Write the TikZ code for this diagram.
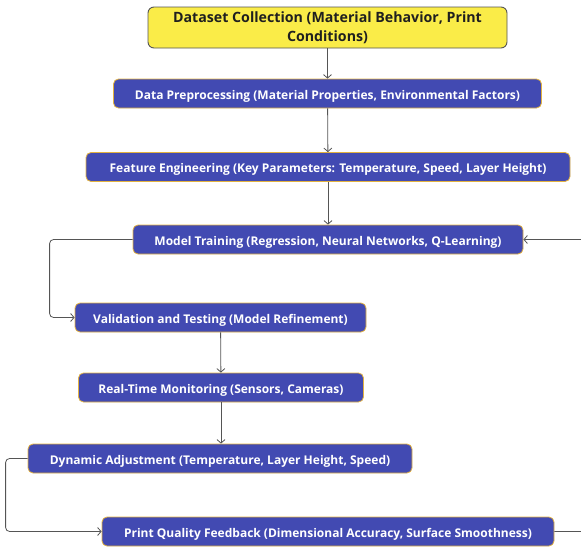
\documentclass[tikz,border=0pt]{standalone}
\usepackage{fontspec}
\setmainfont{Open Sans}
\usetikzlibrary{arrows.meta}
\definecolor{flowblue}{RGB}{66,74,178}
\definecolor{flowedge}{RGB}{226,178,64}
\definecolor{flowyellow}{RGB}{250,236,72}
\definecolor{flowgray}{RGB}{85,85,85}

\begin{document}
\begin{tikzpicture}[x=1pt,y=-1pt]

%
% Styles
%
\tikzstyle{block} = [rectangle,rounded corners=5pt,draw=flowedge,fill=flowblue,line width=0.8pt,
  text=white,font=\bfseries\fontsize{12}{14}\selectfont,minimum height=29pt,inner sep=0pt,
  text height=11pt,text depth=0pt]
\tikzstyle{headblock} = [rectangle,rounded corners=6pt,draw=flowgray,fill=flowyellow,line width=0.9pt,
  text=black!88,font=\bfseries\fontsize{14.2}{19}\selectfont,align=center,minimum height=41pt,inner sep=0pt]
\tikzstyle{link} = [draw=flowgray,line width=0.8pt,-{Straight Barb[length=3.5pt,width=8pt]}]

\useasboundingbox (0,0) rectangle (581,549);

\node[headblock,minimum width=359pt] (dataset) at (327.5,27.5)  {Dataset Collection (Material Behavior, Print\\Conditions)};
\node[block,minimum width=428pt] (preproc) at (327.5,93.5)  {Data Preprocessing (Material Properties, Environmental Factors)};
\node[block,minimum width=484pt] (feature) at (328,167) {Feature Engineering (Key Parameters: Temperature, Speed, Layer Height)};
\node[block,minimum width=390pt] (training) at (328,239.5) {Model Training (Regression, Neural Networks, Q-Learning)};
\node[block,minimum width=291pt] (validation) at (220.5,317.5) {Validation and Testing (Model Refinement)};
\node[block,minimum width=285pt] (monitoring) at (221,387.5) {Real-Time Monitoring (Sensors, Cameras)};
\node[block,minimum width=384pt] (adjustment) at (220,458.5) {Dynamic Adjustment (Temperature, Layer Height, Speed)};
\node[block,minimum width=452pt] (feedback) at (328,531.5) {Print Quality Feedback (Dimensional Accuracy, Surface Smoothness)};

\draw[link] (dataset) -- (preproc);
\draw[link] (preproc) -- (feature);
\draw[link] (feature) -- (training);
\draw[link,rounded corners=4pt] (training.west) -- ++(-83,0) |- (validation.west);
\draw[link] (validation) -- (monitoring);
\draw[link] (monitoring.south) -- (monitoring.south |- adjustment.north);
\draw[link,rounded corners=4pt] (adjustment.west) -- ++(-22,0) |- (feedback.west);
\draw[link,rounded corners=4pt] (feedback.east) -- ++(40,0) |- (training.east);

\end{tikzpicture}
\end{document}
